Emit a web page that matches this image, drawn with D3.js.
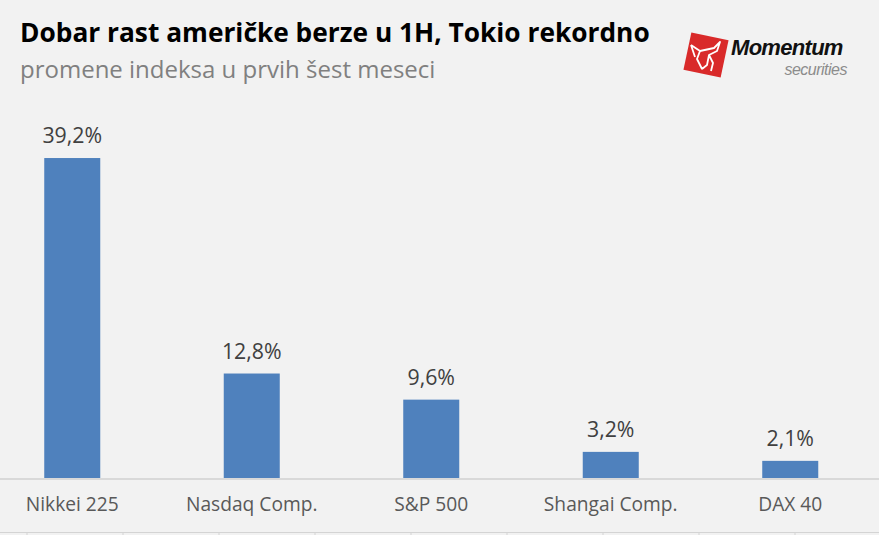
<!DOCTYPE html>
<html>
<head>
<meta charset="utf-8">
<script src="https://cdn.jsdelivr.net/npm/d3@7"></script>
<style>
  html, body { margin: 0; padding: 0; background: #f2f2f2; }
  svg { display: block; font-family: "Open Sans", sans-serif; }
</style>
</head>
<body>
<div id="chart"></div>
<script>
// index names and first-half change in %
const indices = ["Nikkei 225", "Nasdaq Comp.", "S&P 500", "Shangai Comp.", "DAX 40"];
const changes = [39.2, 12.8, 9.6, 3.2, 2.1];

const title = "Dobar rast američke berze u 1H, Tokio rekordno";
const subtitle = "promene indeksa u prvih šest meseci";

const width = 879;
const height = 535;
const baseY = 478;

const svg = d3.select("#chart")
  .append("svg")
  .attr("width", width)
  .attr("height", height);

svg.append("rect")
  .attr("width", width)
  .attr("height", height)
  .attr("fill", "#f2f2f2");

// scales
const x = d3.scaleBand()
  .domain(indices)
  .range([-17.5, 880])
  .paddingInner(0.688)
  .paddingOuter(0.344);

const y = d3.scaleLinear()
  .domain([0, 40])
  .range([baseY, 151.5]);

const data = indices.map((name, i) => ({ name, value: changes[i] }));

// bars
svg.selectAll("rect.bar")
  .data(data)
  .enter()
  .append("rect")
  .attr("class", "bar")
  .attr("x", d => x(d.name))
  .attr("y", d => y(d.value))
  .attr("width", x.bandwidth())
  .attr("height", d => y(0) - y(d.value))
  .attr("fill", "#4f81bd");

// value labels
svg.selectAll("text.val")
  .data(data)
  .enter()
  .append("text")
  .attr("class", "val")
  .attr("x", d => x(d.name) + x.bandwidth() / 2)
  .attr("y", d => y(d.value) - 15)
  .attr("text-anchor", "middle")
  .attr("font-size", 21.3)
  .attr("fill", "#404040")
  .text(d => d.value.toFixed(1).replace(".", ",") + "%");

// category axis
const xAxis = svg.append("g")
  .attr("transform", `translate(0,${baseY})`)
  .call(d3.axisBottom(x).tickSize(0).tickPadding(19));
xAxis.select(".domain").remove();
xAxis.append("line")
  .attr("x1", 0).attr("x2", width)
  .attr("y1", 1).attr("y2", 1)
  .attr("stroke", "#d9d9d9")
  .attr("stroke-width", 2);
xAxis.selectAll("text")
  .attr("font-family", "Open Sans, sans-serif")
  .attr("font-size", 19.2)
  .attr("fill", "#595959");

// sheet gridlines peeking in at the bottom
svg.append("line")
  .attr("x1", 0).attr("x2", width)
  .attr("y1", 532.5).attr("y2", 532.5)
  .attr("stroke", "#d4d4d4");
svg.selectAll("line.cell")
  .data(d3.range(27, width, 96))
  .enter()
  .append("line")
  .attr("x1", d => d).attr("x2", d => d)
  .attr("y1", 533).attr("y2", 535)
  .attr("stroke", "#d4d4d4");

// titles
svg.append("text")
  .attr("x", 20)
  .attr("y", 42)
  .attr("font-size", 26.3)
  .attr("font-weight", "bold")
  .attr("fill", "#000")
  .text(title);

svg.append("text")
  .attr("x", 20)
  .attr("y", 78)
  .attr("font-size", 24)
  .attr("fill", "#808080")
  .text(subtitle);

// logo
const logo = svg.append("g").attr("transform", "translate(706,55)");
logo.append("rect")
  .attr("x", -19).attr("y", -19)
  .attr("width", 38).attr("height", 38)
  .attr("transform", "rotate(12)")
  .attr("fill", "#d92a2a");
logo.append("path")
  .attr("d", "M-15,-10 L-6,-4 L8,-7 L14,-13 L11,-4 L3,0 L1,10 L-4,14 M-6,-4 L-9,4 L-4,14 M-15,-10 L-11,2 M3,0 L7,8 L5,16")
  .attr("fill", "none")
  .attr("stroke", "#fff")
  .attr("stroke-width", 1.8)
  .attr("stroke-linejoin", "round");

svg.append("text")
  .attr("x", 731)
  .attr("y", 55)
  .attr("font-family", "Liberation Sans, Arial, sans-serif")
  .attr("font-size", 22)
  .attr("font-weight", "bold")
  .attr("font-style", "italic")
  .attr("letter-spacing", -0.7)
  .attr("fill", "#111")
  .text("Momentum");
svg.append("text")
  .attr("x", 847)
  .attr("y", 75)
  .attr("text-anchor", "end")
  .attr("font-family", "Liberation Sans, Arial, sans-serif")
  .attr("font-size", 16)
  .attr("font-style", "italic")
  .attr("letter-spacing", -0.5)
  .attr("fill", "#8c8c8c")
  .text("securities");
</script>
</body>
</html>
